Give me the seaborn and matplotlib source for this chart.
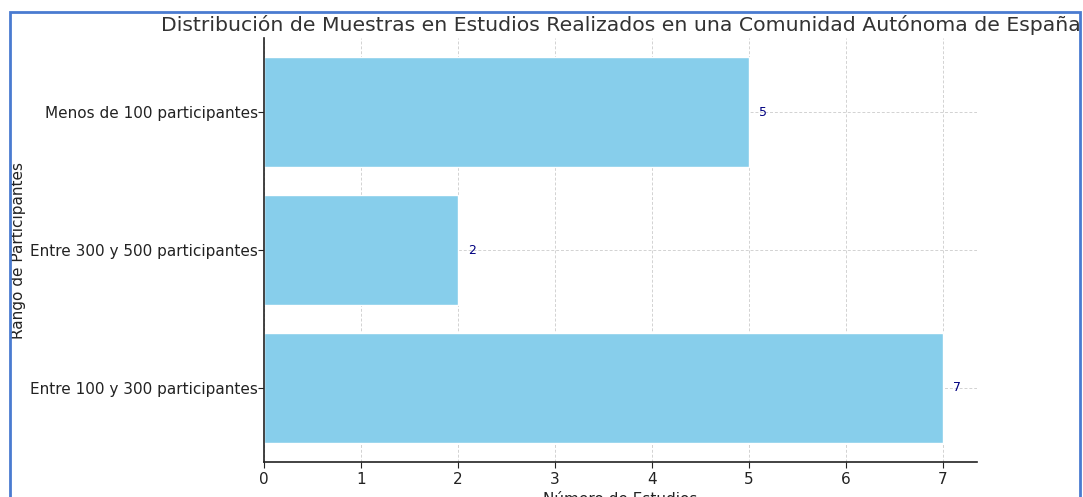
import matplotlib
matplotlib.use("Agg")
import matplotlib.pyplot as plt
from matplotlib.patches import Rectangle
import seaborn as sns
import pandas as pd

# Sample-size ranges (top to bottom) and number of studies in each
rangos = ["Menos de 100 participantes", "Entre 300 y 500 participantes", "Entre 100 y 300 participantes"]
estudios = [5, 2, 7]

df = pd.DataFrame({"Rango": rangos, "Estudios": estudios})

sns.set_style("white")
plt.rcParams["font.family"] = ["DejaVu Sans"]

fig = plt.figure(figsize=(10.83, 4.97), dpi=100)
ax = fig.add_axes([0.2438, 0.0704, 0.6583, 0.8531])

sns.barplot(data=df, x="Estudios", y="Rango", orient="h", color="skyblue",
            saturation=1, width=0.8, ax=ax, order=rangos)

ax.set_xlim(0, 7.35)
ax.set_ylim(2.54, -0.54)
ax.grid(True, linestyle=(0, (3, 2)), color="#d2d2d2", linewidth=0.7)
ax.set_axisbelow(True)
for s in ["top", "right"]:
    ax.spines[s].set_visible(False)
for s in ["left", "bottom"]:
    ax.spines[s].set_color("#222222")
    ax.spines[s].set_linewidth(1.2)
ax.tick_params(axis="both", which="both", length=4, color="#222222", labelsize=11,
               labelcolor="#222222", bottom=True, left=True)
ax.tick_params(axis="y", pad=0.5)

for i, v in enumerate(estudios):
    ax.text(v + 0.1, i, str(v), color="navy", va="center", ha="left", fontsize=9)

ax.set_xlabel("Número de Estudios", fontsize=11, color="#222222", labelpad=3)
ax.set_ylabel("Rango de Participantes", fontsize=11, color="#222222")
ax.yaxis.set_label_coords(-0.334, 0.5)
ax.set_title("Distribución de Muestras en Estudios Realizados en una Comunidad Autónoma de España",
             fontsize=14.7, color="#333333", pad=5)

# Blue frame around the figure
fig.patches.append(Rectangle((10 / 1083, -0.02), 1070 / 1083, 1 - 12 / 497 + 0.02,
                             transform=fig.transFigure, fill=False,
                             edgecolor="#4a7bd0", linewidth=2, zorder=10))

fig.savefig("out.png", dpi=100)
